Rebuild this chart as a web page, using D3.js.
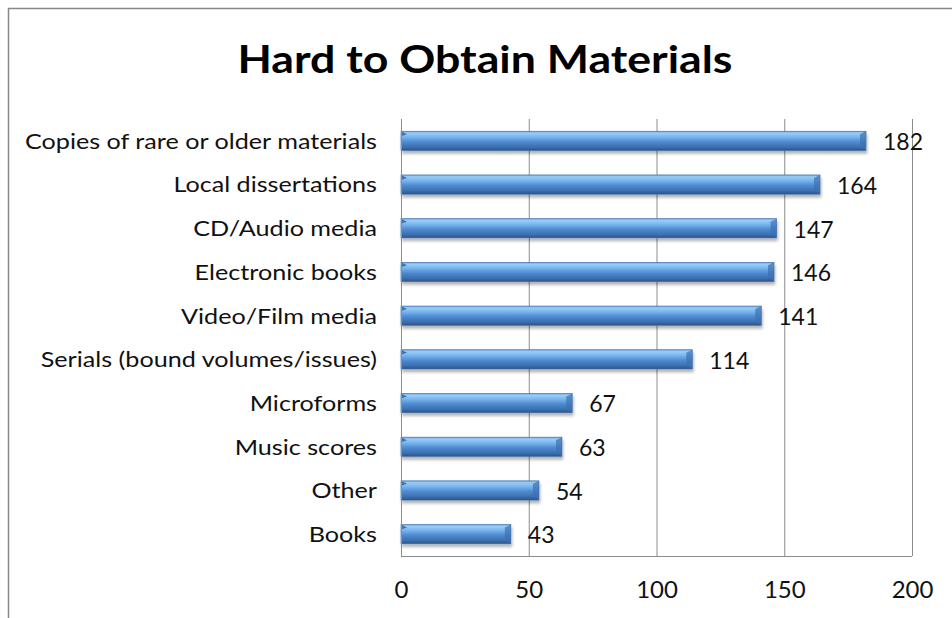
<!DOCTYPE html>
<html><head><meta charset="utf-8">
<script src="https://cdn.jsdelivr.net/npm/d3@7"></script>
<style>body{margin:0;background:#fff;font-family:Lato,"Open Sans",sans-serif;}</style>
</head><body>
<svg id="c" width="952" height="618"></svg>
<script>
const categories = ["Copies of rare or older materials","Local dissertations","CD/Audio media","Electronic books","Video/Film media","Serials (bound volumes/issues)","Microforms","Music scores","Other","Books"];
const values = [182,164,147,146,141,114,67,63,54,43];
const xTicks = [0,50,100,150,200];
const title = "Hard to Obtain Materials";

const svg = d3.select("#c");
const defs = svg.append("defs");
const g1 = defs.append("linearGradient").attr("id","bar").attr("x1",0).attr("y1",0).attr("x2",0).attr("y2",1);
[[0,"#6aa3e3"],[0.1,"#9acdf7"],[0.3,"#78b4ee"],[0.55,"#4f8bd0"],[0.85,"#3a6dad"],[1,"#2a5283"]].forEach(s=>g1.append("stop").attr("offset",s[0]).attr("stop-color",s[1]));
const f = defs.append("filter").attr("id","sh").attr("x","-5%").attr("y","-30%").attr("width","110%").attr("height","190%");
f.append("feGaussianBlur").attr("in","SourceAlpha").attr("stdDeviation",1.8).attr("result","b");
f.append("feOffset").attr("dx",1).attr("dy",3).attr("result","o");
f.append("feComponentTransfer").append("feFuncA").attr("type","linear").attr("slope",0.3);
const m = f.append("feMerge"); m.append("feMergeNode"); m.append("feMergeNode").attr("in","SourceGraphic");

// outer frame
svg.append("path").attr("d","M8.5,618 V8.5 H952").attr("fill","none").attr("stroke","#888").attr("stroke-width",1.5);

const x = d3.scaleLinear().domain([0,200]).range([401,912]);
const y = d3.scaleBand().domain(categories).range([119,556]).paddingInner(0.56).paddingOuter(0.28);

// gridlines
svg.append("g").selectAll("line").data(xTicks.slice(1)).join("line")
  .attr("x1",d=>x(d)+0.5).attr("x2",d=>x(d)+0.5).attr("y1",119).attr("y2",556)
  .attr("stroke","#8c8c8c").attr("stroke-width",1);

// bars
const bars = svg.append("g").selectAll("g").data(categories).join("g").attr("filter","url(#sh)");
bars.append("rect").attr("x",x(0)).attr("y",d=>y(d)).attr("width",(d,i)=>x(values[i])-x(0)).attr("height",y.bandwidth())
  .attr("fill","url(#bar)").attr("stroke","#3a6aa6").attr("stroke-width",0.6);
// bevels at ends
bars.append("path").attr("d",(d,i)=>{const xe=x(values[i]),y0=y(d),h=y.bandwidth();return `M${xe-6},${y0+3} L${xe},${y0} L${xe},${y0+h} L${xe-6},${y0+h-4} Z`;})
  .attr("fill","#3d70b0").attr("opacity",0.7);
bars.append("path").attr("d",d=>{const xs=x(0),y0=y(d);return `M${xs},${y0} L${xs+6},${y0+3} L${xs},${y0+5} Z`;})
  .attr("fill","#2e5c96").attr("opacity",0.8);

// axes
svg.append("line").attr("x1",401.5).attr("x2",401.5).attr("y1",119).attr("y2",556.5).attr("stroke","#8c8c8c");
svg.append("line").attr("x1",401).attr("x2",912).attr("y1",556.5).attr("y2",556.5).attr("stroke","#8c8c8c");
const xa = svg.append("g").attr("transform","translate(0,556)").call(d3.axisBottom(x).tickValues(xTicks).tickSize(0).tickPadding(25));
xa.select(".domain").remove();
xa.selectAll("text").attr("font-family","Lato,'Open Sans',sans-serif").attr("font-size",24).attr("fill","#111");

// category labels
const cl = svg.append("g").selectAll("text").data(categories).join("text")
  .attr("x",377).attr("y",d=>y(d)+y.bandwidth()/2).attr("dy","0.36em").attr("text-anchor","end")
  .attr("font-size",22).attr("fill","#111").text(d=>d);
const w0 = cl.node().getComputedTextLength();
const k = 352 / w0;
cl.each(function(){ const w=this.getComputedTextLength(); d3.select(this).attr("textLength",w*k).attr("lengthAdjust","spacingAndGlyphs"); });

// value labels
svg.append("g").selectAll("text").data(categories).join("text")
  .attr("x",(d,i)=>x(values[i])+17).attr("y",d=>y(d)+y.bandwidth()/2+1).attr("dy","0.36em")
  .attr("font-size",23).attr("fill","#111").text((d,i)=>values[i]);

const t = svg.append("text").attr("x",485).attr("y",73).attr("text-anchor","middle").attr("font-size",38).attr("font-weight","bold").attr("fill","#000").text(title);
t.attr("textLength",495).attr("lengthAdjust","spacingAndGlyphs");
</script>
</body></html>
